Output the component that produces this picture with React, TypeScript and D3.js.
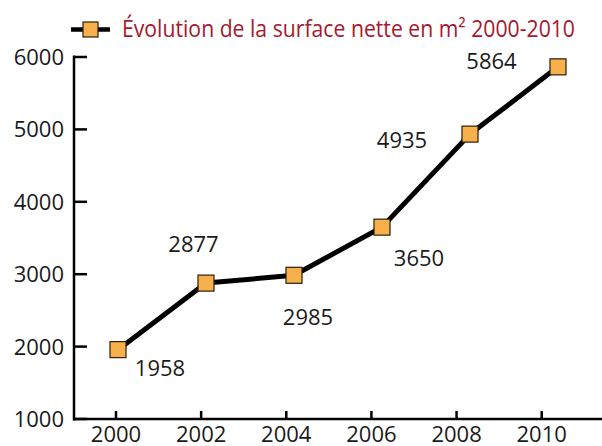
import React from "react";
import * as d3 from "d3";

const years = [2000, 2002, 2004, 2006, 2008, 2010];
const values = [1958, 2877, 2985, 3650, 4935, 5864];
const yTicks = [1000, 2000, 3000, 4000, 5000, 6000];
const xTicks = [2000, 2002, 2004, 2006, 2008, 2010];
const legendLabel = "Évolution de la surface nette en m² 2000-2010";

// layout: value label offsets (centre x, baseline y) relative to each marker
const labelOffsets: [number, number][] = [
  [42, 26],
  [-12.5, -31],
  [14, 50],
  [37, 39],
  [-68, 14],
  [-66.5, 2],
];

const W = 602;
const H = 446;
const FONT = "'Open Sans', 'DejaVu Sans', sans-serif";

export default function App() {
  const y = d3.scaleLinear().domain([1000, 6000]).range([419, 57]);
  // axis tick scale
  const xAxis = d3.scaleLinear().domain([2000, 2010]).range([116, 541.7]);
  // point scale (markers are slightly stretched relative to ticks in the reference)
  const xPts = d3.scaleLinear().domain([2000, 2010]).range([118, 558]);

  const line = d3
    .line<number>()
    .x((_, i) => xPts(years[i]))
    .y((v) => y(v));

  const ms = 16;

  return (
    <svg
      width={W}
      height={H}
      style={{ position: "absolute", left: 0, top: 0, background: "#fff" }}
    >
      {/* legend */}
      <line x1={71} x2={110} y1={29.5} y2={29.5} stroke="#000" strokeWidth={4.5} />
      <rect x={83} y={22} width={15} height={15} fill="#F8B04C" stroke="#2b1d0a" strokeWidth={1.2} />
      <text
        x={122}
        y={37}
        fontFamily={FONT}
        fontSize={24}
        fill="#A6192E"
        textLength={453}
        lengthAdjust="spacingAndGlyphs"
      >
        {legendLabel}
      </text>

      {/* y axis */}
      <line x1={74} x2={74} y1={55.5} y2={420.5} stroke="#000" strokeWidth={2.5} />
      {yTicks.map((t) => (
        <g key={t}>
          <line x1={74} x2={87} y1={y(t)} y2={y(t)} stroke="#000" strokeWidth={2.5} />
          <text
            x={64}
            y={y(t)}
            dy="0.36em"
            textAnchor="end"
            fontFamily={FONT}
            fontSize={22}
            fill="#1a1a1a"
          >
            {t}
          </text>
        </g>
      ))}

      {/* x axis */}
      <line x1={73} x2={602} y1={419} y2={419} stroke="#000" strokeWidth={2.5} />
      {xTicks.map((t) => (
        <g key={t}>
          <line x1={xAxis(t)} x2={xAxis(t)} y1={419} y2={411} stroke="#000" strokeWidth={2.5} />
          <text
            x={xAxis(t)}
            y={442}
            textAnchor="middle"
            fontFamily={FONT}
            fontSize={22}
            fill="#1a1a1a"
          >
            {t}
          </text>
        </g>
      ))}

      {/* line */}
      <path d={line(values) || ""} fill="none" stroke="#000" strokeWidth={5} strokeLinejoin="round" />

      {/* markers */}
      {values.map((v, i) => (
        <rect
          key={i}
          x={xPts(years[i]) - ms / 2}
          y={y(v) - ms / 2}
          width={ms}
          height={ms}
          fill="#F8B04C"
          stroke="#2b1d0a"
          strokeWidth={1.2}
        />
      ))}

      {/* value labels */}
      {values.map((v, i) => (
        <text
          key={i}
          x={xPts(years[i]) + labelOffsets[i][0]}
          y={y(v) + labelOffsets[i][1]}
          textAnchor="middle"
          fontFamily={FONT}
          fontSize={22}
          fill="#1a1a1a"
        >
          {v}
        </text>
      ))}
    </svg>
  );
}
